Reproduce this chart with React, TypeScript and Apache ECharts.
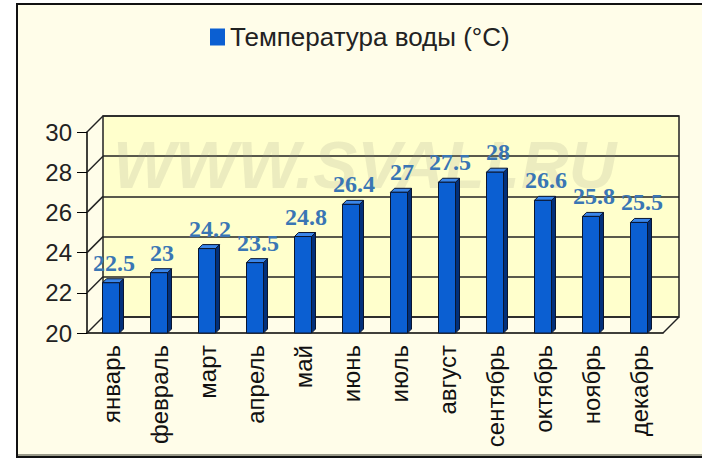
import React, { useEffect, useRef } from "react";
import * as echarts from "echarts";

const months = ["январь", "февраль", "март", "апрель", "май", "июнь", "июль", "август", "сентябрь", "октябрь", "ноябрь", "декабрь"];
const waterTemp = [22.5, 23, 24.2, 23.5, 24.8, 26.4, 27, 27.5, 28, 26.6, 25.8, 25.5];
const yTicks = [20, 22, 24, 26, 28, 30];
const seriesName = "Температура воды (°C)";

const DX = 16;
const DY = 16;

export default function App() {
  const ref = useRef<HTMLDivElement>(null);
  useEffect(() => {
    if (!ref.current) return;
    const chart = echarts.init(ref.current, undefined, { renderer: "svg" });
    const option: any = {
      animation: false,
      backgroundColor: "transparent",
      legend: {
        left: 205,
        top: 19,
        itemWidth: 15,
        itemHeight: 17,
        data: [{ name: seriesName, icon: "rect" }],
        textStyle: { fontFamily: "Liberation Sans", fontSize: 26, color: "#222" },
      },
      graphic: [
        {
          type: "text",
          left: 113,
          top: 132,
          z: 1,
          silent: true,
          style: {
            text: "WWW.SVALI.RU",
            font: "italic bold 66px 'Liberation Sans'",
            fill: "rgba(140,140,130,0.17)",
          },
        },
      ],
      grid: [
        { left: 87, top: 132, width: 576, height: 201, show: false },
        {
          left: 87 + DX,
          top: 132 - DY,
          width: 576,
          height: 201,
          show: true,
          backgroundColor: "#ffffcc",
          borderColor: "#222",
          borderWidth: 1.5,
        },
      ],
      xAxis: [
        {
          type: "category",
          gridIndex: 0,
          data: months,
          axisLine: { lineStyle: { color: "#000", width: 1.5 } },
          axisTick: { length: 7, lineStyle: { color: "#000" }, alignWithLabel: true },
          axisLabel: {
            rotate: 90,
            margin: 12,
            fontFamily: "Liberation Sans",
            fontSize: 24,
            color: "#111",
            interval: 0,
          },
        },
        {
          type: "category",
          gridIndex: 1,
          data: months,
          show: false,
        },
      ],
      yAxis: [
        {
          type: "value",
          gridIndex: 0,
          min: 20,
          max: 30,
          interval: 2,
          axisLine: { show: true, lineStyle: { color: "#000", width: 1.5 } },
          axisTick: { show: true, length: 10, lineStyle: { color: "#000" } },
          splitLine: { show: false },
          axisLabel: { fontFamily: "Liberation Sans", fontSize: 24, color: "#222", margin: 15 },
        },
        {
          type: "value",
          gridIndex: 1,
          min: 20,
          max: 30,
          interval: 2,
          axisLine: { show: false },
          axisTick: { show: false },
          axisLabel: { show: false },
          splitLine: { show: true, lineStyle: { color: "#222", width: 1.5 } },
        },
      ],
      series: [
        {
          type: "custom",
          name: "walls",
          xAxisIndex: 0,
          yAxisIndex: 0,
          silent: true,
          z: 1,
          data: yTicks.map((v) => [0, v]),
          renderItem: (params: any, api: any) => {
            const cs = params.coordSys;
            const v = api.value(1);
            const y = api.coord([0, v])[1];
            const x0 = cs.x;
            const children: any[] = [
              {
                type: "line",
                shape: { x1: x0, y1: y, x2: x0 + DX, y2: y - DY },
                style: { stroke: "#222", lineWidth: 1.5 },
              },
            ];
            if (v === 20) {
              children.push({
                type: "line",
                shape: { x1: cs.x + cs.width, y1: y, x2: cs.x + cs.width + DX, y2: y - DY },
                style: { stroke: "#222", lineWidth: 1.5 },
              });
            }
            return { type: "group", children };
          },
        },
        {
          type: "custom",
          name: seriesName,
          xAxisIndex: 0,
          yAxisIndex: 0,
          z: 5,
          itemStyle: { color: "#0b5fd2" },
          data: waterTemp.map((v, i) => [i, v]),
          renderItem: (params: any, api: any) => {
            const idx = api.value(0);
            const v = api.value(1);
            const top = api.coord([idx, v]);
            const base = api.coord([idx, 20]);
            const w = 17;
            const d = 4;
            const x0 = top[0] - w / 2;
            const x1 = top[0] + w / 2;
            const yT = top[1];
            const yB = base[1];
            const stroke = "#0a1630";
            return {
              type: "group",
              children: [
                {
                  type: "polygon",
                  shape: { points: [[x1, yT], [x1 + d, yT - d], [x1 + d, yB - d], [x1, yB]] },
                  style: { fill: "#02307a", stroke, lineWidth: 1 },
                },
                {
                  type: "polygon",
                  shape: { points: [[x0, yT], [x0 + d, yT - d], [x1 + d, yT - d], [x1, yT]] },
                  style: { fill: "#3a86ea", stroke, lineWidth: 1 },
                },
                {
                  type: "rect",
                  shape: { x: x0, y: yT, width: w, height: yB - yT },
                  style: { fill: "#0b5fd2", stroke, lineWidth: 1 },
                },
                {
                  type: "text",
                  x: top[0] + 3,
                  y: yT - 20,
                  z2: 10,
                  style: {
                    text: String(v),
                    font: "bold 24px 'Liberation Serif'",
                    fill: "#3a76b4",
                    textAlign: "center",
                    textVerticalAlign: "middle",
                  },
                },
              ],
            };
          },
        },
      ],
    };
    chart.setOption(option);
    return () => chart.dispose();
  }, []);

  return (
    <div style={{ position: "absolute", left: 0, top: 0, width: 702, height: 460, background: "#fff" }}>
      <div
        style={{
          position: "absolute",
          left: 16,
          top: 3,
          width: 700,
          height: 451,
          border: "2px solid #111",
          boxShadow: "inset 0 -2px 0 #9a9a8a",
          background: "#fffde9",
        }}
      />
      <div ref={ref} style={{ position: "absolute", left: 0, top: 0, width: 702, height: 460 }} />
    </div>
  );
}
